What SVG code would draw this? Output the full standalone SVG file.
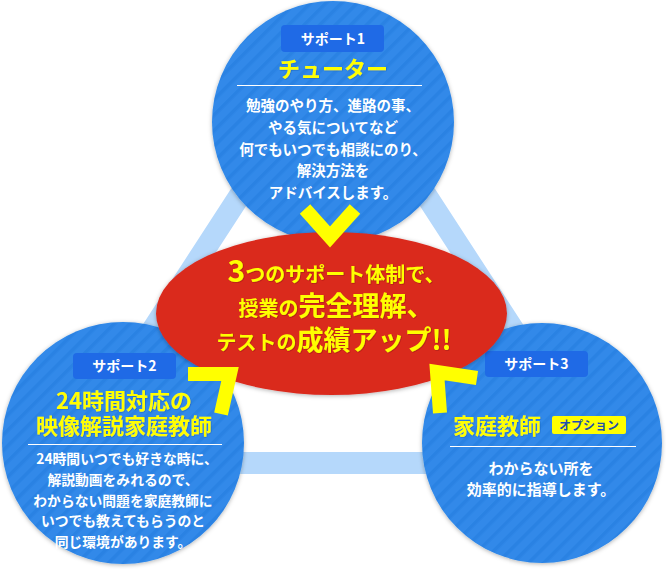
<svg xmlns="http://www.w3.org/2000/svg" width="666" height="569" viewBox="0 0 666 569">
<defs>
<pattern id="stripe" patternUnits="userSpaceOnUse" width="11" height="11" patternTransform="rotate(45)">
<rect x="0" y="0" width="11" height="11" fill="#3089e9"/>
<rect x="0" y="0" width="3.5" height="11" fill="#2b82e3"/>
</pattern>
<filter id="sh" x="-10%" y="-10%" width="120%" height="120%">
<feDropShadow dx="0" dy="1" stdDeviation="2" flood-color="#000" flood-opacity="0.3"/>
</filter>
<filter id="tsh" x="-5%" y="-20%" width="110%" height="140%">
<feDropShadow dx="0.6" dy="0.6" stdDeviation="0.6" flood-color="#7a1410" flood-opacity="0.6"/>
</filter>
<filter id="bsh" x="-5%" y="-20%" width="110%" height="140%">
<feDropShadow dx="0.5" dy="0.5" stdDeviation="0.6" flood-color="#0b3d88" flood-opacity="0.5"/>
</filter>
</defs>
<style>
.circ{fill:url(#stripe);filter:url(#sh)}
.tag{fill:#1f6ae6}
.tagt{font-family:"Noto Sans CJK JP",sans-serif;font-size:14px;font-weight:700;fill:#fff;text-anchor:middle}
.head{font-family:"Noto Sans CJK JP",sans-serif;font-size:22px;font-weight:700;fill:#ffff00;text-anchor:middle;filter:url(#bsh)}
.rule{stroke:#fff;stroke-width:1.2}
.body{font-family:"Noto Sans CJK JP",sans-serif;font-size:14.5px;font-weight:700;fill:#fff;text-anchor:middle}
.chev{fill:none;stroke:#ffff00;stroke-width:14;stroke-linejoin:miter;stroke-miterlimit:10}
.main{font-family:"Noto Sans CJK JP",sans-serif;font-weight:700;fill:#ffff00;text-anchor:middle;filter:url(#tsh)}
</style>
<g id="connectors">
<polygon points="333,52 66,463 600,463" fill="none" stroke="#b5d8fb" stroke-width="22" stroke-linejoin="round"/>
</g>
<g id="support1">
<circle class="circ" cx="333" cy="122" r="121"/>
<rect class="tag" x="281" y="25" width="103" height="27" rx="4"/>
<text class="tagt" x="333" y="44">サポート1</text>
<text class="head" x="333" y="77">チューター</text>
<line class="rule" x1="237" y1="85.5" x2="422" y2="85.5"/>
<text class="body" x="333" y="111">勉強のやり方、進路の事、</text>
<text class="body" x="333" y="133">やる気についてなど</text>
<text class="body" x="333" y="155">何でもいつでも相談にのり、</text>
<text class="body" x="333" y="176">解決方法を</text>
<text class="body" x="333" y="198">アドバイスします。</text>
</g>
<g id="support2">
<circle class="circ" cx="123" cy="443" r="121"/>
<rect class="tag" x="73" y="353" width="103" height="26" rx="4"/>
<text class="tagt" x="124.5" y="371">サポート2</text>
<text class="head" x="124" y="409">24時間対応の</text>
<text class="head" x="124" y="434">映像解説家庭教師</text>
<line class="rule" x1="28" y1="444.5" x2="222" y2="444.5"/>
<text class="body" x="127" y="464" style="font-size:13.8px">24時間いつでも好きな時に、</text>
<text class="body" x="123" y="485" style="font-size:13.8px">解説動画をみれるので、</text>
<text class="body" x="123" y="506" style="font-size:13.8px">わからない問題を家庭教師に</text>
<text class="body" x="123" y="526" style="font-size:13.8px">いつでも教えてもらうのと</text>
<text class="body" x="123" y="547" style="font-size:13.8px">同じ環境があります。</text>
</g>
<g id="support3">
<circle class="circ" cx="542" cy="443" r="120"/>
<rect class="tag" x="485" y="351" width="103" height="26" rx="4"/>
<text class="tagt" x="536.5" y="369">サポート3</text>
<text class="head" x="497" y="434">家庭教師</text>
<rect x="552" y="416" width="74" height="18" rx="2" fill="#ffff00"/>
<text x="589" y="430" style="font-family:'Noto Sans CJK JP',sans-serif;font-size:12px;font-weight:700;fill:#1d4fae;text-anchor:middle">オプション</text>
<line class="rule" x1="450" y1="446.5" x2="636" y2="446.5"/>
<text class="body" x="541" y="474" style="font-size:15px">わからない所を</text>
<text class="body" x="541" y="495" style="font-size:15px">効率的に指導します。</text>
</g>
<g id="center">
<ellipse cx="331.5" cy="313.5" rx="175.5" ry="81.5" fill="#da2a1f" filter="url(#sh)"/>
<text class="main" x="336" y="282" style="font-size:20px"><tspan style="font-size:30px">3</tspan>つのサポート体制で、</text>
<text class="main" x="336" y="316" style="font-size:20px">授業の<tspan style="font-size:27px">完全理解、</tspan></text>
<text class="main" x="334" y="350" style="font-size:20px">テストの<tspan style="font-size:27px">成績アップ!!</tspan></text>
</g>
<g id="arrows">
<polyline class="chev" points="305,209 330,237 355,209"/>
<polyline class="chev" points="188,374 230,374 221,414"/>
<polyline class="chev" points="477,378 437,372 440,413"/>
</g>
</svg>
